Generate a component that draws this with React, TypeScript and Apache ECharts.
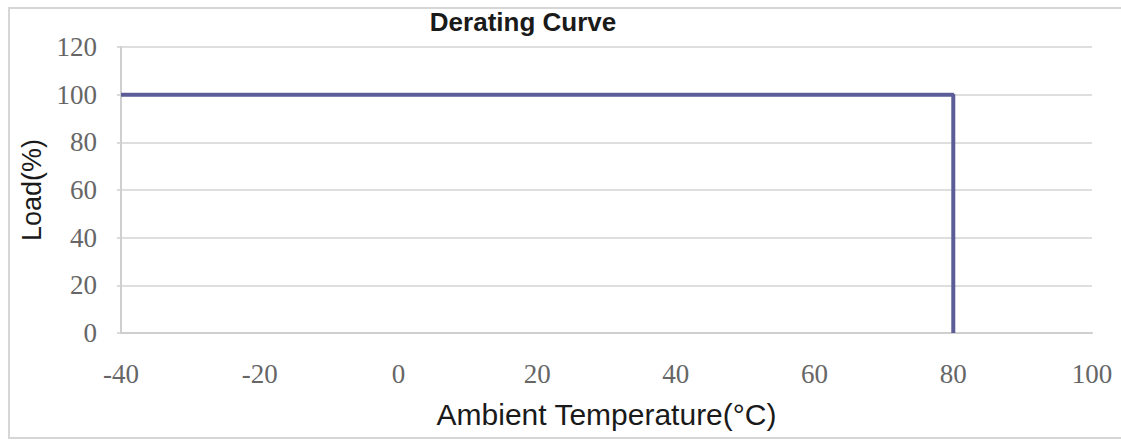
import React, { useEffect, useRef } from "react";
import * as echarts from "echarts";

const titleText = "Derating Curve";
const xName = "Ambient Temperature(°C)";
const yName = "Load(%)";
const temperatures = [-40, 80, 80];
const loads = [100, 100, 0];
const xTicks = { min: -40, max: 100, interval: 20 };
const yTicks = { min: 0, max: 120, interval: 20 };

export default function App() {
  const ref = useRef<HTMLDivElement>(null);
  useEffect(() => {
    document.body.style.margin = "0";
    const chart = echarts.init(ref.current!, null, { renderer: "svg" });
    const data = temperatures.map((t, i) => [t, loads[i]]);
    chart.setOption({
      animation: false,
      backgroundColor: "#ffffff",
      graphic: [
        {
          type: "rect",
          shape: { x: 9, y: 8, width: 1130, height: 430 },
          style: { fill: "none", stroke: "#d6d6d6", lineWidth: 2 },
          silent: true,
        },
        {
          type: "text",
          x: 523,
          y: 22,
          style: {
            text: titleText,
            align: "center",
            verticalAlign: "middle",
            font: "bold 26px 'Liberation Sans', Arial, sans-serif",
            fill: "#1a1a1a",
          },
        },
      ],
      grid: { left: 121, right: 29, top: 47, bottom: 107 },
      xAxis: {
        type: "value",
        min: xTicks.min,
        max: xTicks.max,
        interval: xTicks.interval,
        name: xName,
        nameLocation: "middle",
        nameGap: 66,
        nameTextStyle: {
          fontFamily: "'Liberation Sans', Arial, sans-serif",
          fontSize: 30,
          color: "#1a1a1a",
        },
        axisLine: { show: true, onZero: false, lineStyle: { color: "#cfcfcf", width: 2 } },
        axisTick: { show: false },
        splitLine: { show: false },
        axisLabel: {
          margin: 27,
          fontFamily: "'Liberation Serif', 'Times New Roman', serif",
          fontSize: 27,
          color: "#666666",
        },
      },
      yAxis: {
        type: "value",
        min: yTicks.min,
        max: yTicks.max,
        interval: yTicks.interval,
        name: yName,
        nameLocation: "middle",
        nameGap: 72,
        nameRotate: 90,
        nameTextStyle: {
          fontFamily: "'Liberation Sans', Arial, sans-serif",
          fontSize: 27,
          color: "#1a1a1a",
        },
        axisLine: { show: true, onZero: false, lineStyle: { color: "#cfcfcf", width: 2 } },
        axisTick: { show: true, length: 4, lineStyle: { color: "#cfcfcf", width: 1.5 } },
        splitLine: { show: true, lineStyle: { color: "#d3d3d3", width: 1.5 } },
        axisLabel: {
          margin: 24,
          fontFamily: "'Liberation Serif', 'Times New Roman', serif",
          fontSize: 27,
          color: "#666666",
        },
      },
      series: [
        {
          type: "line",
          data,
          symbol: "none",
          lineStyle: { color: "#5c5c96", width: 4 },
          silent: true,
        },
      ],
    });
    return () => chart.dispose();
  }, []);
  return <div ref={ref} style={{ width: 1121, height: 440 }} />;
}
